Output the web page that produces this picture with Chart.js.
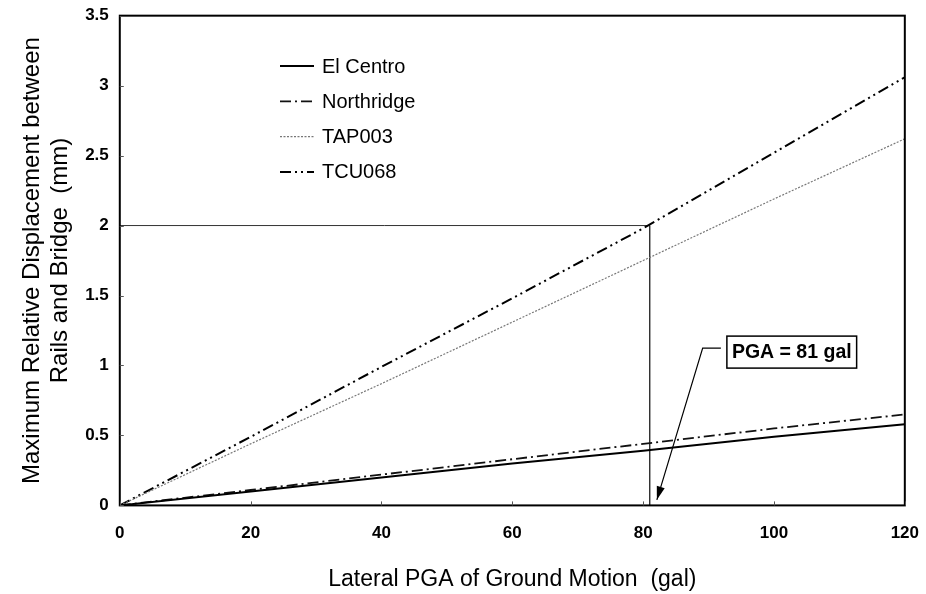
<!DOCTYPE html>
<html>
<head>
<meta charset="utf-8">
<script src="https://cdn.jsdelivr.net/npm/chart.js@4.4.1/dist/chart.umd.min.js"></script>
<style>
  html, body { margin: 0; padding: 0; background: #fff; }
  #wrap { width: 926px; height: 594px; position: relative; }
</style>
</head>
<body>
<div id="wrap"><canvas id="chart"></canvas></div>
<script>
// chart data
const pga = [0, 20, 40, 60, 80, 100, 120];
const elCentro = [0, 0.10, 0.20, 0.30, 0.39, 0.49, 0.58];
const northridge = [0, 0.11, 0.22, 0.33, 0.44, 0.55, 0.65];
const tap003 = [0, 0.44, 0.87, 1.31, 1.75, 2.19, 2.62];
const tcu068 = [0, 0.49, 0.99, 1.48, 1.98, 2.52, 3.06];
const seriesNames = ['El Centro', 'Northridge', 'TAP003', 'TCU068'];

// guide lines for the 2 mm limit and the PGA it reaches
const limitPga = 81;
const limitDisp = 2;
const calloutText = 'PGA = 81 gal';

const FONT = "'Liberation Sans', Arial, sans-serif";

function toPoints(ys) {
  return pga.map((x, i) => ({ x: x, y: ys[i] }));
}

// frame box, inward ticks, legend and callout
const decorations = {
  id: 'decorations',
  afterDraw(chart) {
    const ctx = chart.ctx;
    const area = chart.chartArea;
    const xs = chart.scales.x;
    const ys = chart.scales.y;
    ctx.save();

    ctx.strokeStyle = '#000';
    ctx.lineWidth = 2;
    ctx.strokeRect(area.left, area.top, area.right - area.left, area.bottom - area.top);

    ctx.lineWidth = 1;
    ctx.strokeStyle = '#555';
    xs.ticks.forEach(t => {
      const px = Math.round(xs.getPixelForValue(t.value)) + 0.5;
      ctx.beginPath();
      ctx.moveTo(px, area.bottom);
      ctx.lineTo(px, area.bottom - 4);
      ctx.stroke();
    });
    ys.ticks.forEach(t => {
      const py = Math.round(ys.getPixelForValue(t.value)) + 0.5;
      ctx.beginPath();
      ctx.moveTo(area.left, py);
      ctx.lineTo(area.left + 4, py);
      ctx.stroke();
    });

    // legend
    const lx = 280, ly = 66, gap = 35.3;
    ctx.font = '20px ' + FONT;
    ctx.textBaseline = 'middle';
    ctx.textAlign = 'left';
    seriesNames.forEach((name, i) => {
      const ds = chart.data.datasets[i];
      const y = ly + i * gap;
      ctx.strokeStyle = ds.borderColor;
      ctx.lineWidth = ds.borderWidth;
      ctx.setLineDash(ds.borderDash || []);
      ctx.beginPath();
      ctx.moveTo(lx, y);
      ctx.lineTo(lx + 34, y);
      ctx.stroke();
      ctx.setLineDash([]);
      ctx.fillStyle = '#000';
      ctx.fillText(name, lx + 42, y + 1);
    });

    // callout box with leader and arrow
    const bx = xs.getPixelForValue(92.8);
    const by = ys.getPixelForValue(1.21);
    ctx.font = 'bold 19.5px ' + FONT;
    const tw = ctx.measureText(calloutText).width;
    const bw = tw + 10, bh = 32;
    ctx.fillStyle = '#fff';
    ctx.fillRect(bx, by, bw, bh);
    ctx.strokeStyle = '#000';
    ctx.lineWidth = 1.5;
    ctx.strokeRect(bx, by, bw, bh);
    ctx.fillStyle = '#000';
    ctx.fillText(calloutText, bx + 5, by + bh / 2 + 1);

    const kx = xs.getPixelForValue(89.1);
    const ky = by + 12;
    const tx = xs.getPixelForValue(82.1);
    const ty = ys.getPixelForValue(0.04);
    ctx.lineWidth = 1.2;
    ctx.beginPath();
    ctx.moveTo(bx - 6, ky);
    ctx.lineTo(kx, ky);
    ctx.lineTo(tx, ty);
    ctx.stroke();
    const ang = Math.atan2(ty - ky, tx - kx);
    const len = 14, half = 0.3;
    ctx.beginPath();
    ctx.moveTo(tx, ty);
    ctx.lineTo(tx - len * Math.cos(ang - half), ty - len * Math.sin(ang - half));
    ctx.lineTo(tx - len * Math.cos(ang + half), ty - len * Math.sin(ang + half));
    ctx.closePath();
    ctx.fill();

    ctx.restore();
  }
};

const lineStyles = [
  { borderColor: '#000', borderWidth: 2, borderDash: [] },
  { borderColor: '#111', borderWidth: 1.8, borderDash: [11, 4, 2, 4] },
  { borderColor: '#777', borderWidth: 1.2, borderDash: [2, 1.5] },
  { borderColor: '#000', borderWidth: 2, borderDash: [11, 4, 2, 4, 2, 4] }
];

const datasets = [elCentro, northridge, tap003, tcu068].map((ys, i) => Object.assign({
  label: seriesNames[i],
  data: toPoints(ys),
  pointRadius: 0,
  tension: 0,
  fill: false
}, lineStyles[i]));

datasets.push({
  label: 'limit',
  data: [{ x: 0, y: limitDisp }, { x: limitPga, y: limitDisp }, { x: limitPga, y: 0 }],
  borderColor: '#333',
  borderWidth: 1,
  pointRadius: 0,
  tension: 0,
  fill: false
});

new Chart(document.getElementById('chart'), {
  type: 'line',
  data: { datasets: datasets },
  plugins: [decorations],
  options: {
    responsive: true,
    maintainAspectRatio: false,
    animation: false,
    layout: { padding: { left: 18, right: 4, top: 2, bottom: 1 } },
    plugins: {
      legend: { display: false },
      tooltip: { enabled: false }
    },
    scales: {
      x: {
        type: 'linear',
        min: 0,
        max: 120,
        ticks: {
          stepSize: 20,
          color: '#000',
          padding: 7,
          maxRotation: 0,
          font: { family: FONT, size: 17, weight: 'bold', lineHeight: 2.47 }
        },
        grid: { display: false, drawTicks: false },
        border: { display: false },
        title: {
          display: true,
          text: 'Lateral PGA of Ground Motion  (gal)',
          color: '#000',
          padding: { top: 4, bottom: 0 },
          font: { family: FONT, size: 23 }
        }
      },
      y: {
        type: 'linear',
        min: 0,
        max: 3.5,
        ticks: {
          stepSize: 0.5,
          color: '#000',
          padding: 11,
          callback: v => String(v),
          font: { family: FONT, size: 17, weight: 'bold', lineHeight: 0.55 }
        },
        grid: { display: false, drawTicks: false },
        border: { display: false },
        title: {
          display: true,
          text: ['Maximum Relative Displacement between', 'Rails and Bridge  (mm)'],
          color: '#000',
          padding: { top: 0, bottom: 0 },
          font: { family: FONT, size: 24, lineHeight: 1.17 }
        }
      }
    }
  }
});
</script>
</body>
</html>
